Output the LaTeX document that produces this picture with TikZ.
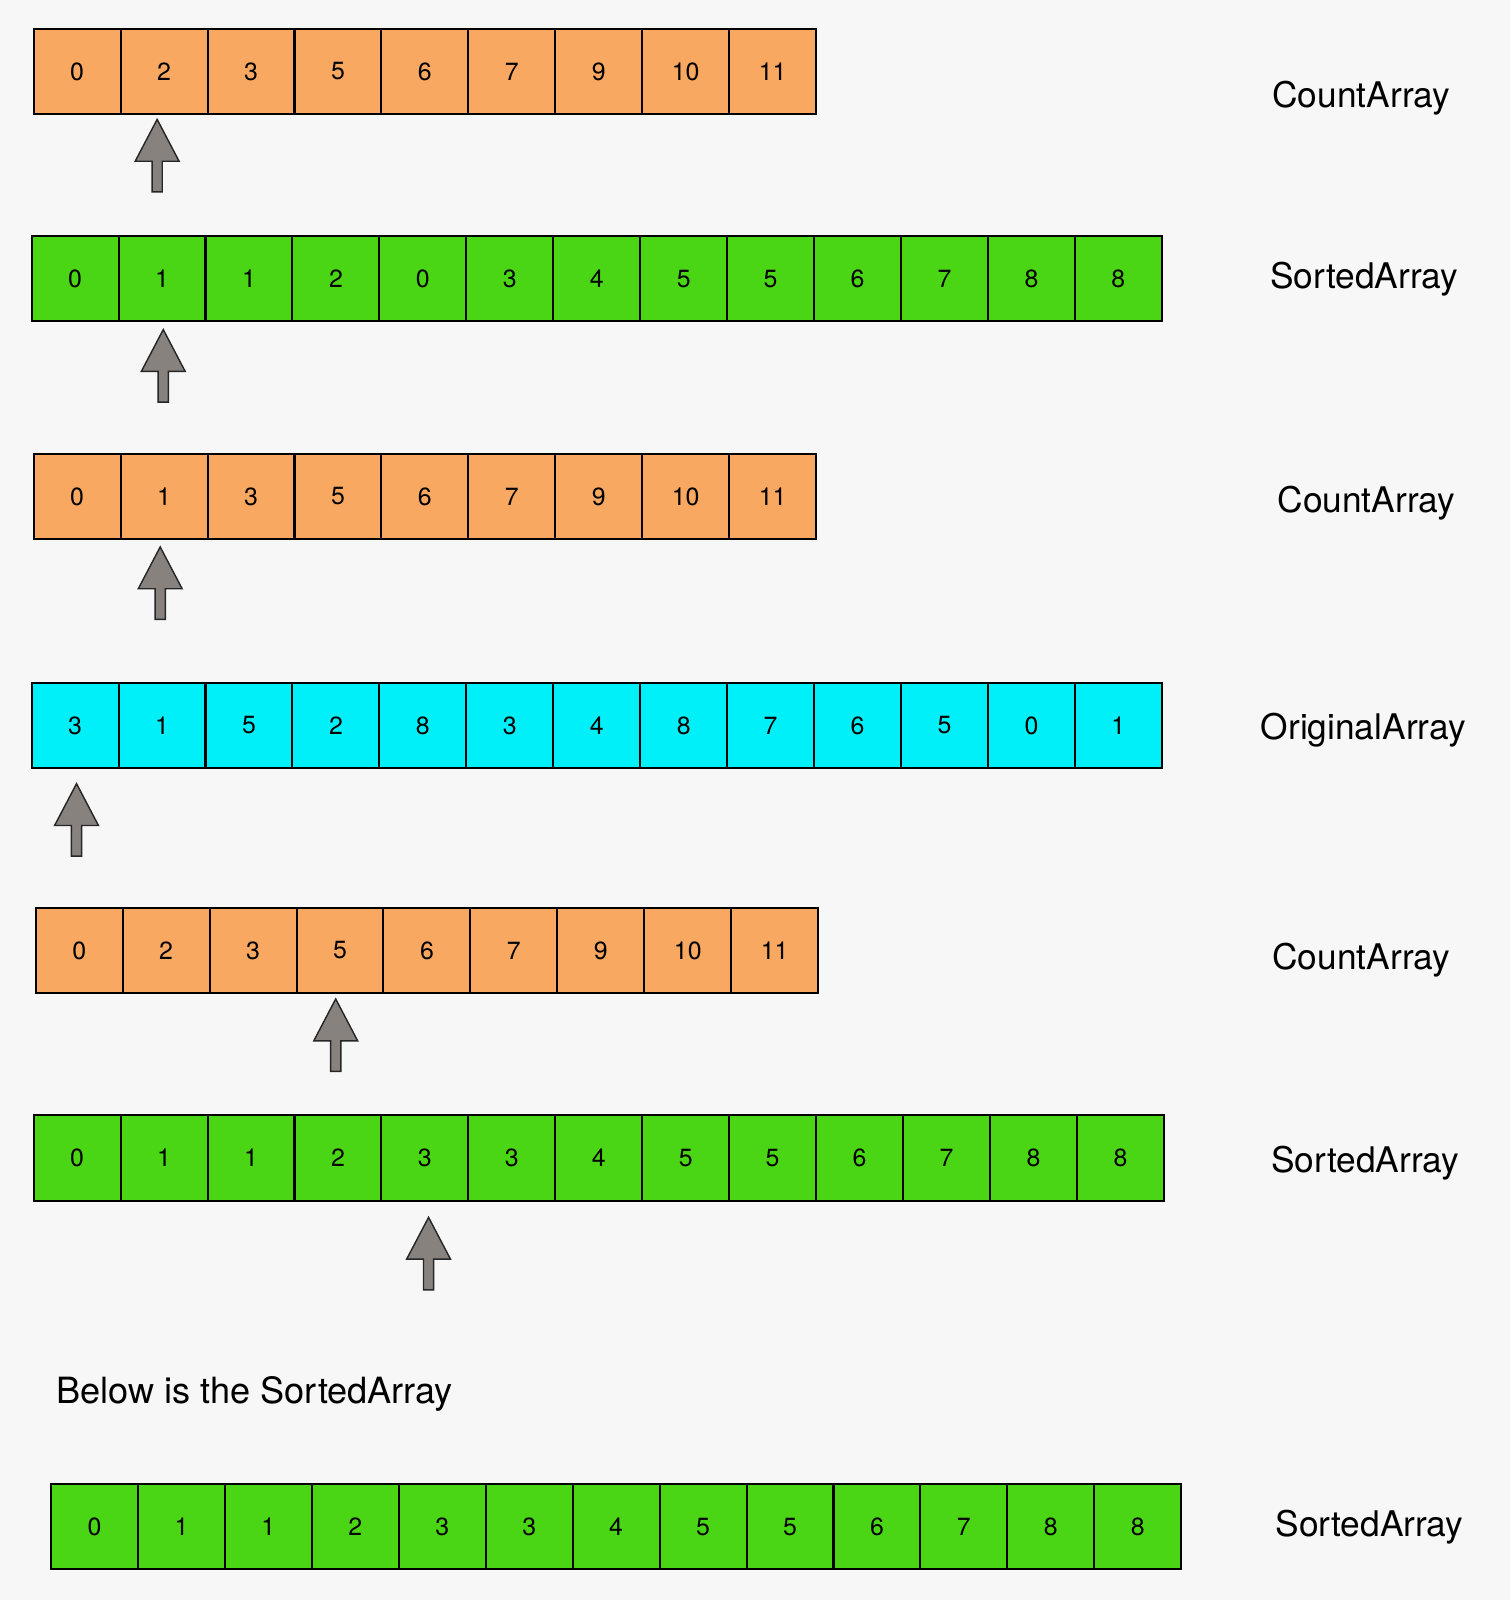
\documentclass[tikz,border=0pt]{standalone}
\usepackage{fontspec}
\setmainfont{TeX Gyre Heros}
\usepackage{tikz}
\definecolor{bggray}{RGB}{247,247,247}
\definecolor{countorange}{RGB}{248,168,96}
\definecolor{sortedgreen}{RGB}{74,214,20}
\definecolor{origcyan}{RGB}{0,240,250}
\definecolor{pointergray}{RGB}{136,130,127}
\newcommand{\cellw}{85.2}
\newcommand{\cellrow}[5]{%
  \foreach \v [count=\i] in {#5} {\node[cell, fill=#4] (#1-\i) at ({#2+\cellw*(\i-0.5)}, #3) {\v};}}

\begin{document}
\begin{tikzpicture}[x=0.5pt, y=-0.5pt,
  cell/.style={draw=black, line width=1pt, minimum width=42.6pt, minimum height=42pt, inner sep=0pt, font=\fontsize{12.2}{13}\selectfont},
  arrayname/.style={inner sep=0pt, font=\fontsize{17.3}{20}\selectfont},
  pointer/.style={draw=black!85, line width=0.7pt, fill=pointergray, line join=miter}]
\fill[bggray] (0,0) rectangle (1480,1568);
\useasboundingbox (0,0) rectangle (1480,1568);
%CountArray
\cellrow{ca}{33}{70}{countorange}{0,2,3,5,6,7,9,10,11}
\node[arrayname] (n1) at (1334,96) {CountArray};
\coordinate (p1) at (154,117);
\draw[pointer] (p1) -- ++(21.5,41) -- ++(-16.5,0) -- ++(0,30) -- ++(-10,0) -- ++(0,-30) -- ++(-16.5,0) -- cycle;
%SortedArray
\cellrow{sa}{31}{273}{sortedgreen}{0,1,1,2,0,3,4,5,5,6,7,8,8}
\node[arrayname] (n2) at (1337,274) {SortedArray};
\coordinate (p2) at (160,323);
\draw[pointer] (p2) -- ++(21.5,41) -- ++(-16.5,0) -- ++(0,30) -- ++(-10,0) -- ++(0,-30) -- ++(-16.5,0) -- cycle;
%CountArray
\cellrow{cb}{33}{486.5}{countorange}{0,1,3,5,6,7,9,10,11}
\node[arrayname] (n3) at (1339,493) {CountArray};
\coordinate (p3) at (157,536);
\draw[pointer] (p3) -- ++(21.5,41) -- ++(-16.5,0) -- ++(0,30) -- ++(-10,0) -- ++(0,-30) -- ++(-16.5,0) -- cycle;
%OriginalArray
\cellrow{oa}{31}{711}{origcyan}{3,1,5,2,8,3,4,8,7,6,5,0,1}
\node[arrayname] (n4) at (1336,716) {OriginalArray};
\coordinate (p4) at (75,768);
\draw[pointer] (p4) -- ++(21.5,41) -- ++(-16.5,0) -- ++(0,30) -- ++(-10,0) -- ++(0,-30) -- ++(-16.5,0) -- cycle;
%CountArray
\cellrow{cc}{35}{931.5}{countorange}{0,2,3,5,6,7,9,10,11}
\node[arrayname] (n5) at (1334,941) {CountArray};
\coordinate (p5) at (329,979);
\draw[pointer] (p5) -- ++(21.5,41) -- ++(-16.5,0) -- ++(0,30) -- ++(-10,0) -- ++(0,-30) -- ++(-16.5,0) -- cycle;
%SortedArray
\cellrow{sb}{33}{1134.5}{sortedgreen}{0,1,1,2,3,3,4,5,5,6,7,8,8}
\node[arrayname] (n6) at (1338,1140) {SortedArray};
\coordinate (p6) at (420,1193);
\draw[pointer] (p6) -- ++(21.5,41) -- ++(-16.5,0) -- ++(0,30) -- ++(-10,0) -- ++(0,-30) -- ++(-16.5,0) -- cycle;
%result
\node[arrayname, anchor=west, font=\fontsize{17.7}{20}\selectfont] (below) at (55,1366) {Below is the SortedArray};
\cellrow{sc}{50}{1496}{sortedgreen}{0,1,1,2,3,3,4,5,5,6,7,8,8}
\node[arrayname] (n7) at (1342,1497) {SortedArray};
\end{tikzpicture}
\end{document}
